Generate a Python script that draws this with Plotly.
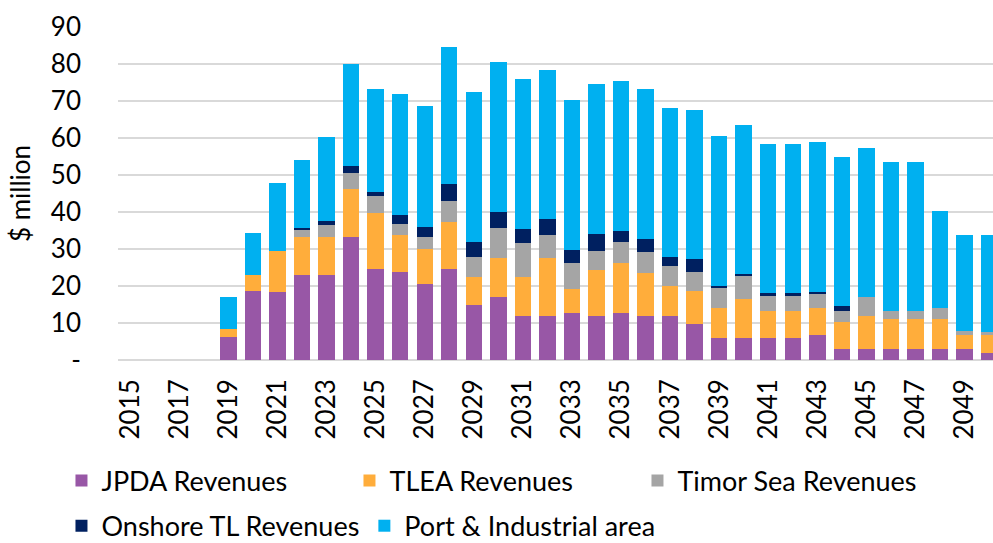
import plotly.graph_objects as go

years = [str(y) for y in range(2015, 2051)]

jpda = [0, 0, 0, 0, 6.3, 18.7, 18.3, 22.9, 22.9, 33.2, 24.5, 23.8, 20.6, 24.6, 14.9, 17.1,
        12.0, 12.0, 12.6, 12.0, 12.6, 12.0, 12.0, 9.8, 6.0, 6.0, 6.0, 6.0, 6.7, 3.0,
        3.0, 3.0, 3.0, 3.0, 3.0, 1.8]
tlea = [0, 0, 0, 0, 2.1, 4.2, 11.2, 10.4, 10.4, 13.1, 15.3, 9.9, 9.5, 12.8, 7.5, 10.4,
        10.4, 15.5, 6.6, 12.2, 13.5, 11.4, 8.1, 8.8, 8.0, 10.5, 7.2, 7.2, 7.3, 7.3,
        9.0, 8.2, 8.2, 8.2, 3.7, 4.9]
timor_sea = [0, 0, 0, 0, 0, 0, 0, 2.1, 3.1, 4.2, 4.4, 3.1, 3.1, 5.5, 5.4, 8.3,
             9.2, 6.2, 7.1, 5.2, 5.9, 5.9, 5.2, 5.2, 5.4, 6.1, 4.3, 4.3, 4.0, 3.0,
             5.0, 2.0, 2.0, 2.9, 1.1, 0.9]
onshore = [0, 0, 0, 0, 0, 0, 0, 0.3, 1.2, 2.0, 1.2, 2.4, 2.7, 4.7, 4.2, 4.3,
           3.9, 4.3, 3.5, 4.7, 2.9, 3.4, 2.6, 3.4, 0.7, 0.6, 0.5, 0.5, 0.5, 1.2,
           0, 0, 0, 0, 0, 0]
port = [0, 0, 0, 0, 8.5, 11.3, 18.4, 18.4, 22.7, 27.6, 27.8, 32.8, 32.8, 37.1, 40.5, 40.5,
        40.5, 40.5, 40.4, 40.6, 40.6, 40.5, 40.3, 40.5, 40.4, 40.4, 40.5, 40.5, 40.5, 40.4,
        40.4, 40.4, 40.4, 26.1, 26.1, 26.1]

series = [
    ("JPDA Revenues", jpda, "#9857A6", "legend"),
    ("TLEA Revenues", tlea, "#FFAD3B", "legend"),
    ("Timor Sea Revenues", timor_sea, "#A5A5A5", "legend"),
    ("Onshore TL Revenues", onshore, "#002060", "legend2"),
    ("Port & Industrial area", port, "#00B0F0", "legend2"),
]

y_ticks = list(range(0, 100, 10))
y_ticktext = ["-"] + [str(v) for v in y_ticks[1:]]
x_ticks = years[::2]

FONT = "Lato, Calibri, sans-serif"
FS = 26

fig = go.Figure()
for name, vals, color, lg in series:
    fig.add_trace(go.Bar(x=years, y=vals, name=name, marker_color=color,
                         marker_line_width=0, legend=lg))

leg_common = dict(orientation="h", xref="paper", yref="paper",
                  xanchor="left", yanchor="middle",
                  font=dict(size=27), itemwidth=30, bgcolor="rgba(0,0,0,0)",
                  traceorder="normal")

fig.update_layout(
    width=993, height=543,
    barmode="stack", bargap=0.33,
    plot_bgcolor="white", paper_bgcolor="white",
    margin=dict(l=118, r=0, t=27, b=183, autoexpand=False),
    font=dict(family=FONT, size=FS, color="#000000"),
    xaxis=dict(type="category", range=[-0.5, 35.16], tickvals=x_ticks, ticktext=x_ticks,
               tickangle=-90, showgrid=False, showline=False, ticks="",
               ticklabelstandoff=13,
               tickfont=dict(size=FS), automargin=False),
    yaxis=dict(range=[0, 90], tickvals=y_ticks, ticktext=y_ticktext,
               showgrid=True, gridcolor="#D9D9D9", gridwidth=2, zeroline=True,
               zerolinecolor="#D9D9D9", zerolinewidth=2, ticks="", ticklabelstandoff=36,
               tickfont=dict(size=FS), automargin=False,
               title=dict(text="$ million", font=dict(size=FS), standoff=12)),
    legend=dict(x=-0.0646, y=-0.3634, entrywidth=243, entrywidthmode="pixels", **leg_common),
    legend2=dict(x=-0.0646, y=-0.499, **leg_common),
)

fig.write_html("out.html", config={"displayModeBar": False},
               post_script="document.body.style.margin='0px';")
